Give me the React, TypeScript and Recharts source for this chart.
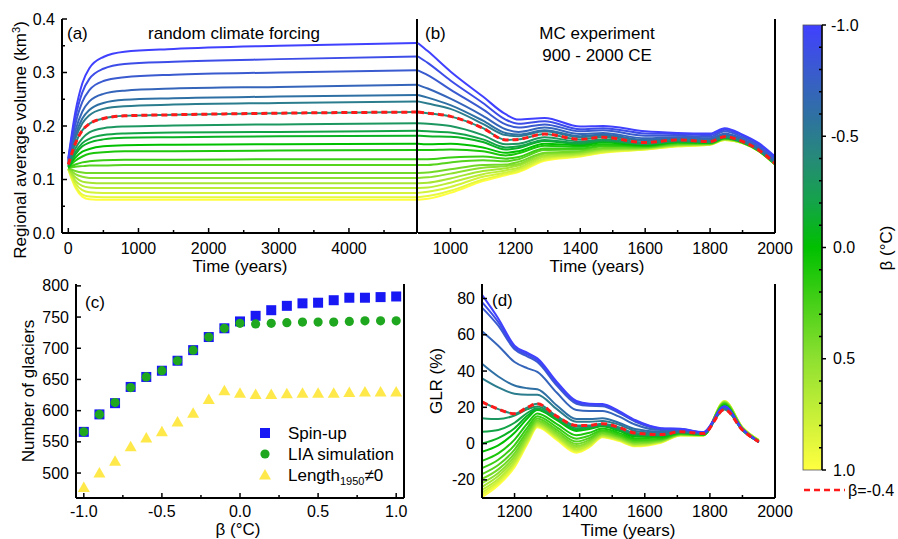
import React from "react";
import { LineChart, Line, XAxis, YAxis, ScatterChart, Scatter } from "recharts";

const FONT = "'Liberation Sans', Arial, Helvetica, sans-serif";

// β (°C) for every simulation, one line per value
const betas = [-1.0, -0.9, -0.8, -0.7, -0.6, -0.5, -0.4, -0.3, -0.2, -0.1, 0.0, 0.1, 0.2, 0.3, 0.4, 0.5, 0.6, 0.7, 0.8, 0.9, 1.0];
const highlightIndex = 6; // β = -0.4, drawn red dashed

// (a) spin-up with random climate forcing, regional average volume (km3)
const spinUpYears = [0, 100, 200, 300, 500, 800, 1500, 3000, 4970];
const spinUpVolume = [
  [0.140, 0.226, 0.280, 0.308, 0.329, 0.339, 0.344, 0.350, 0.355],
  [0.138, 0.215, 0.263, 0.288, 0.307, 0.316, 0.320, 0.325, 0.330],
  [0.136, 0.203, 0.245, 0.267, 0.284, 0.291, 0.296, 0.300, 0.304],
  [0.134, 0.191, 0.227, 0.246, 0.260, 0.266, 0.270, 0.273, 0.277],
  [0.132, 0.182, 0.214, 0.230, 0.243, 0.249, 0.252, 0.255, 0.258],
  [0.130, 0.176, 0.205, 0.220, 0.232, 0.237, 0.240, 0.243, 0.246],
  [0.128, 0.167, 0.192, 0.204, 0.214, 0.219, 0.221, 0.224, 0.226],
  [0.126, 0.158, 0.177, 0.188, 0.196, 0.199, 0.201, 0.203, 0.205],
  [0.125, 0.151, 0.168, 0.176, 0.183, 0.186, 0.188, 0.189, 0.191],
  [0.124, 0.147, 0.162, 0.169, 0.175, 0.178, 0.179, 0.181, 0.182],
  [0.123, 0.141, 0.152, 0.157, 0.162, 0.164, 0.165, 0.166, 0.167],
  [0.122, 0.135, 0.143, 0.148, 0.151, 0.153, 0.153, 0.154, 0.155],
  [0.122, 0.128, 0.132, 0.134, 0.136, 0.137, 0.137, 0.138, 0.138],
  [0.122, 0.124, 0.125, 0.126, 0.126, 0.127, 0.127, 0.127, 0.127],
  [0.121, 0.116, 0.113, 0.112, 0.112, 0.112, 0.112, 0.112, 0.112],
  [0.121, 0.110, 0.105, 0.103, 0.103, 0.103, 0.103, 0.103, 0.103],
  [0.120, 0.104, 0.096, 0.094, 0.093, 0.093, 0.093, 0.093, 0.093],
  [0.120, 0.098, 0.088, 0.085, 0.084, 0.084, 0.084, 0.084, 0.084],
  [0.120, 0.093, 0.080, 0.076, 0.075, 0.075, 0.075, 0.075, 0.075],
  [0.119, 0.088, 0.072, 0.068, 0.067, 0.067, 0.067, 0.067, 0.067],
  [0.119, 0.085, 0.068, 0.063, 0.062, 0.062, 0.062, 0.062, 0.062],
];

// (b) MC experiment 900 - 2000 CE
const mcYears = [900, 930, 1000, 1100, 1170, 1210, 1290, 1400, 1470, 1600, 1700, 1800, 1845, 1900, 1950, 2000];
const mcVolume = [
  [0.355, 0.340, 0.302, 0.255, 0.222, 0.212, 0.215, 0.199, 0.200, 0.190, 0.187, 0.186, 0.196, 0.184, 0.168, 0.143],
  [0.330, 0.318, 0.285, 0.243, 0.212, 0.204, 0.209, 0.194, 0.196, 0.186, 0.185, 0.183, 0.193, 0.182, 0.166, 0.141],
  [0.304, 0.295, 0.268, 0.231, 0.203, 0.197, 0.203, 0.190, 0.192, 0.182, 0.182, 0.180, 0.190, 0.179, 0.163, 0.138],
  [0.277, 0.270, 0.251, 0.219, 0.194, 0.189, 0.197, 0.185, 0.187, 0.177, 0.179, 0.177, 0.186, 0.176, 0.160, 0.135],
  [0.258, 0.253, 0.239, 0.210, 0.187, 0.184, 0.192, 0.181, 0.184, 0.174, 0.177, 0.175, 0.184, 0.174, 0.158, 0.133],
  [0.246, 0.242, 0.232, 0.204, 0.183, 0.181, 0.190, 0.179, 0.182, 0.172, 0.176, 0.173, 0.183, 0.173, 0.157, 0.132],
  [0.226, 0.224, 0.218, 0.196, 0.174, 0.175, 0.185, 0.175, 0.179, 0.169, 0.174, 0.171, 0.180, 0.171, 0.155, 0.130],
  [0.205, 0.204, 0.200, 0.183, 0.166, 0.167, 0.179, 0.171, 0.175, 0.167, 0.173, 0.170, 0.179, 0.171, 0.155, 0.130],
  [0.191, 0.190, 0.188, 0.175, 0.160, 0.162, 0.174, 0.168, 0.173, 0.166, 0.171, 0.170, 0.179, 0.170, 0.155, 0.130],
  [0.182, 0.181, 0.180, 0.170, 0.156, 0.159, 0.172, 0.166, 0.171, 0.166, 0.171, 0.169, 0.178, 0.170, 0.155, 0.130],
  [0.167, 0.166, 0.167, 0.160, 0.150, 0.153, 0.167, 0.164, 0.169, 0.164, 0.170, 0.169, 0.178, 0.170, 0.154, 0.129],
  [0.155, 0.155, 0.156, 0.153, 0.145, 0.149, 0.163, 0.161, 0.166, 0.163, 0.169, 0.168, 0.177, 0.170, 0.154, 0.129],
  [0.138, 0.138, 0.141, 0.143, 0.139, 0.142, 0.158, 0.158, 0.163, 0.162, 0.168, 0.168, 0.177, 0.169, 0.154, 0.129],
  [0.127, 0.127, 0.132, 0.136, 0.134, 0.138, 0.155, 0.156, 0.162, 0.161, 0.167, 0.167, 0.176, 0.169, 0.154, 0.129],
  [0.112, 0.113, 0.119, 0.127, 0.128, 0.133, 0.150, 0.153, 0.159, 0.160, 0.166, 0.167, 0.176, 0.169, 0.154, 0.129],
  [0.103, 0.104, 0.111, 0.122, 0.125, 0.129, 0.148, 0.151, 0.157, 0.159, 0.165, 0.167, 0.176, 0.169, 0.154, 0.129],
  [0.093, 0.094, 0.102, 0.116, 0.121, 0.126, 0.145, 0.149, 0.156, 0.159, 0.164, 0.166, 0.175, 0.169, 0.153, 0.128],
  [0.084, 0.085, 0.094, 0.110, 0.117, 0.122, 0.142, 0.147, 0.154, 0.158, 0.164, 0.166, 0.175, 0.168, 0.153, 0.128],
  [0.075, 0.077, 0.086, 0.105, 0.113, 0.119, 0.139, 0.146, 0.152, 0.157, 0.163, 0.166, 0.175, 0.168, 0.153, 0.128],
  [0.067, 0.069, 0.079, 0.100, 0.110, 0.116, 0.137, 0.144, 0.151, 0.156, 0.162, 0.165, 0.174, 0.168, 0.153, 0.128],
  [0.062, 0.064, 0.075, 0.097, 0.108, 0.114, 0.135, 0.143, 0.150, 0.156, 0.162, 0.165, 0.174, 0.168, 0.153, 0.128],
];

// (c) number of glaciers against β
const spinUpCount = [566, 594, 612, 638, 654, 664, 680, 697, 718, 732, 743, 752, 761, 768, 772, 773, 777, 781, 781, 782, 783];
const liaCount = [566, 594, 613, 637, 654, 664, 680, 697, 718, 732, 740, 739, 740, 741, 742, 742, 742, 743, 744, 744, 744];
const lengthCount = [477, 500, 519, 542, 556, 566, 582, 596, 618, 632, 628, 626, 626, 627, 628, 628, 628, 629, 630, 630, 630];

// (d) GLR (%)
const glrYears = [1100, 1150, 1200, 1240, 1270, 1330, 1390, 1430, 1470, 1520, 1570, 1650, 1710, 1780, 1845, 1900, 1950];
const glrValues = [
  [82, 69, 54, 50, 47, 34, 23.5, 22, 21.8, 18, 13, 8.5, 8.2, 6.3, 20.5, 8, 1],
  [78, 67, 53, 49, 46, 33, 22.8, 21.3, 21.2, 17.5, 12.6, 8.3, 8, 6.2, 20.5, 8, 1],
  [75, 65, 52, 48, 45, 32, 22, 20.8, 20.6, 17, 12.2, 8.1, 7.8, 6.1, 20.5, 8, 1],
  [62, 54, 45, 41.5, 39.5, 28, 18.5, 18, 18, 15, 10.5, 7.5, 7.5, 6, 20, 8, 1],
  [44, 37, 32, 30.5, 30, 21, 13.5, 13.5, 14, 11.5, 8, 6.5, 7, 5.8, 20, 7.8, 1],
  [36, 31, 27.5, 27, 27, 19, 12, 12, 12.5, 10.5, 7, 5.8, 6.8, 5.7, 19.5, 7.7, 1],
  [23, 19, 16.5, 20, 22, 15, 10, 10, 11, 9, 5.8, 5, 6.5, 5.5, 18.8, 7.5, 1],
  [14, 13.5, 15.5, 19, 20.5, 15, 9.5, 9.5, 10.5, 8.5, 5.5, 4.8, 6.3, 5.4, 19.5, 7.5, 1],
  [6.5, 7.5, 11.5, 17, 19.5, 14, 8.5, 9, 10.2, 8, 5, 4.5, 6.2, 5.3, 20, 7.5, 1],
  [0, 3, 8.5, 15.5, 19, 13.5, 7.7, 8.5, 9.8, 7.5, 4.5, 4.2, 6.1, 5.2, 20.5, 7.5, 1],
  [-4.5, -1, 6, 14, 18.5, 13, 7, 8, 9.5, 7, 4, 4, 6, 5.1, 21, 7.5, 1],
  [-9.5, -5.4, 2.2, 11.2, 16.6, 10.8, 4.6, 6, 8.3, 5.9, 2.9, 3.3, 5.7, 5, 21.5, 7.8, 1.2],
  [-13.5, -8.9, -0.8, 9, 15.1, 9, 2.7, 4.4, 7.3, 5, 2, 2.7, 5.5, 4.9, 21.9, 8.05, 1.4],
  [-16.8, -11.8, -3.3, 7.1, 13.9, 7.6, 1.1, 3.1, 6.6, 4.3, 1.3, 2.3, 5.3, 4.8, 22.2, 8.25, 1.5],
  [-19.5, -14.2, -5.4, 5.6, 12.8, 6.4, -0.2, 2, 5.9, 3.7, 0.7, 1.9, 5.1, 4.7, 22.5, 8.4, 1.6],
  [-21.8, -16.2, -7.1, 4.3, 11.9, 5.4, -1.3, 1.1, 5.4, 3.2, 0.2, 1.6, 5, 4.7, 22.7, 8.55, 1.7],
  [-23.8, -17.9, -8.6, 3.2, 11.2, 4.5, -2.2, 0.3, 4.9, 2.8, -0.2, 1.3, 4.85, 4.6, 22.9, 8.65, 1.8],
  [-25.5, -19.5, -10, 2.2, 10.5, 3.8, -3.1, -0.4, 4.5, 2.4, -0.6, 1.1, 4.7, 4.6, 23.1, 8.75, 1.85],
  [-27, -20.8, -11.1, 1.4, 9.9, 3.1, -3.8, -1, 4.1, 2.1, -1, 0.85, 4.65, 4.55, 23.25, 8.85, 1.9],
  [-28.3, -21.9, -12.1, 0.7, 9.5, 2.6, -4.4, -1.5, 3.8, 1.8, -1.2, 0.7, 4.6, 4.5, 23.4, 8.9, 1.95],
  [-29.5, -23, -13, 0, 9, 2, -5, -2, 3.5, 1.5, -1.5, 0.5, 4.5, 4.5, 23.5, 9, 2],
];

// axis ticks
const spinUpTicks = [0, 1000, 2000, 3000, 4000];
const spinUpMinor = [500, 1500, 2500, 3500, 4500];
const volumeTicks = [0, 0.1, 0.2, 0.3, 0.4];
const volumeMinor = [0.05, 0.15, 0.25, 0.35];
const mcTicks = [1000, 1200, 1400, 1600, 1800, 2000];
const mcMinor = [1100, 1300, 1500, 1700, 1900];
const betaTicks = [-1.0, -0.5, 0.0, 0.5, 1.0];
const betaMinor = [-0.75, -0.25, 0.25, 0.75];
const countTicks = [500, 550, 600, 650, 700, 750, 800];
const glrTicks = [-20, 0, 20, 40, 60, 80];
const glrYearTicks = [1200, 1400, 1600, 1800, 2000];
const glrYearMinor = [1300, 1500, 1700, 1900];

// colour map of the β colour bar
const colorStops: [number, string][] = [
  [-1.0, "#4040ff"],
  [-0.8, "#3a5ad0"],
  [-0.6, "#2f70a4"],
  [-0.4, "#268a78"],
  [-0.2, "#14a448"],
  [0.0, "#00c000"],
  [0.5, "#8ee030"],
  [1.0, "#ffff40"],
];

const HIGHLIGHT = "#ff1a1a";
const SPIN_COLOR = "#1818f4";
const LIA_COLOR = "#1fa81f";
const LENGTH_COLOR = "#ffe94a";

function hexRgb(h: string) {
  return [1, 3, 5].map((i) => parseInt(h.slice(i, i + 2), 16));
}

function betaColor(b: number) {
  for (let i = 0; i < colorStops.length - 1; i++) {
    const [b0, c0] = colorStops[i];
    const [b1, c1] = colorStops[i + 1];
    if (b <= b1 + 1e-9) {
      const f = Math.max(0, Math.min(1, (b - b0) / (b1 - b0)));
      const a = hexRgb(c0);
      const z = hexRgb(c1);
      const c = a.map((v, k) => Math.round(v + (z[k] - v) * f));
      return `rgb(${c[0]},${c[1]},${c[2]})`;
    }
  }
  return colorStops[colorStops.length - 1][1];
}

function toRows(times: number[], values: number[][]) {
  return times.map((t, j) => {
    const row: Record<string, number> = { t };
    values.forEach((v, i) => {
      row[`s${i}`] = v[j];
    });
    return row;
  });
}

const has = (list: number[], v: number) => list.some((m) => Math.abs(m - v) < 1e-9);
const frame = { stroke: "#000", strokeWidth: 2 };

function bottomTick(majors: number[], fmt: (v: number) => string, gap: number) {
  return (props: any) => {
    const { x, y, payload } = props;
    const major = has(majors, payload.value);
    return (
      <g>
        <line x1={x} x2={x} y1={y} y2={y - (major ? 5 : 3)} stroke="#000" strokeWidth={1.5} />
        {major && (
          <text x={x} y={y + gap} dy="0.35em" textAnchor="middle" fontSize={16} fontFamily={FONT} fill="#000">
            {fmt(payload.value)}
          </text>
        )}
      </g>
    );
  };
}

function leftTick(majors: number[], fmt: (v: number) => string) {
  return (props: any) => {
    const { x, y, payload } = props;
    const major = has(majors, payload.value);
    return (
      <g>
        <line x1={x} x2={x + (major ? 5 : 3)} y1={y} y2={y} stroke="#000" strokeWidth={1.5} />
        {major && (
          <text x={x - 7} y={y} dy="0.35em" textAnchor="end" fontSize={16} fontFamily={FONT} fill="#000">
            {fmt(payload.value)}
          </text>
        )}
      </g>
    );
  };
}

const fix1 = (v: number) => v.toFixed(1);
const plain = (v: number) => String(v);

function betaLines() {
  const order = betas.map((_, i) => betas.length - 1 - i);
  return [
    ...order.map((i) => (
      <Line
        key={`s${i}`}
        dataKey={`s${i}`}
        type="monotone"
        stroke={betaColor(betas[i])}
        strokeWidth={2}
        dot={false}
        activeDot={false}
        isAnimationActive={false}
      />
    )),
    <Line
      key="highlight"
      dataKey={`s${highlightIndex}`}
      type="monotone"
      stroke={HIGHLIGHT}
      strokeWidth={3}
      strokeDasharray="6 4"
      dot={false}
      activeDot={false}
      isAnimationActive={false}
    />,
  ];
}

const squareShape = (p: any) => <rect x={p.cx - 5} y={p.cy - 5} width={10} height={10} fill={SPIN_COLOR} />;
const circleShape = (p: any) => <circle cx={p.cx} cy={p.cy} r={4.6} fill={LIA_COLOR} />;
const triangleShape = (p: any) => (
  <polygon points={`${p.cx},${p.cy - 6} ${p.cx + 6},${p.cy + 4.5} ${p.cx - 6},${p.cy + 4.5}`} fill={LENGTH_COLOR} />
);

function Txt(props: { x: number; y: number; children: React.ReactNode; anchor?: string; rotate?: boolean; size?: number }) {
  const { x, y, children, anchor = "middle", rotate = false, size = 17 } = props;
  return (
    <text
      x={x}
      y={y}
      dy="0.35em"
      textAnchor={anchor as any}
      fontSize={size}
      fontFamily={FONT}
      fill="#000"
      transform={rotate ? `rotate(-90 ${x} ${y})` : undefined}
    >
      {children}
    </text>
  );
}

// right-hand frame edge drawn as a 1px wide axis
function rightFrame(domain: [number, number]) {
  return <YAxis yAxisId="right" orientation="right" type="number" domain={domain} width={1} tick={false} tickLine={false} axisLine={frame} />;
}

export default function App() {
  const rowsA = toRows(spinUpYears, spinUpVolume);
  const rowsB = toRows(mcYears, mcVolume);
  const rowsD = toRows(glrYears, glrValues);
  const spinPts = betas.map((b, i) => ({ x: b, y: spinUpCount[i] }));
  const liaPts = betas.map((b, i) => ({ x: b, y: liaCount[i] }));
  const lenPts = betas.map((b, i) => ({ x: b, y: lengthCount[i] }));

  // colour bar geometry
  const cbX = 803;
  const cbW = 19;
  const cbTop = 25;
  const cbBot = 470;
  const cbY = (b: number) => cbTop + ((b + 1) / 2) * (cbBot - cbTop);

  return (
    <div style={{ position: "absolute", left: 0, top: 0, width: 898, height: 539, background: "#fff", overflow: "hidden", fontFamily: FONT }}>
      <div style={{ position: "absolute", left: 0, top: 0 }}>
        <LineChart width={420} height={280} data={rowsA} margin={{ top: 19, right: 2, bottom: 0, left: 0 }}>
          <XAxis dataKey="t" type="number" domain={[-90, 4970]} ticks={[...spinUpTicks, ...spinUpMinor]} interval={0} height={47} tickSize={0} tickMargin={0} tickLine={false} axisLine={frame} tick={bottomTick(spinUpTicks, plain, 15)} />
          <XAxis xAxisId="top" dataKey="t" orientation="top" type="number" domain={[-90, 4970]} height={0} tick={false} tickLine={false} axisLine={frame} />
          <YAxis type="number" domain={[0, 0.4]} ticks={[...volumeTicks, ...volumeMinor]} interval={0} width={62} tickSize={0} tickMargin={0} tickLine={false} axisLine={frame} tick={leftTick(volumeTicks, fix1)} />
          {rightFrame([0, 0.4])}
          {betaLines()}
        </LineChart>
      </div>

      <div style={{ position: "absolute", left: 400, top: 0 }}>
        <LineChart width={400} height={280} data={rowsB} margin={{ top: 19, right: 24, bottom: 0, left: 18 }}>
          <XAxis dataKey="t" type="number" domain={[900, 2000]} ticks={[...mcTicks, ...mcMinor]} interval={0} height={47} tickSize={0} tickMargin={0} tickLine={false} axisLine={frame} tick={bottomTick(mcTicks, plain, 15)} />
          <XAxis xAxisId="top" dataKey="t" orientation="top" type="number" domain={[900, 2000]} height={0} tick={false} tickLine={false} axisLine={frame} />
          <YAxis type="number" domain={[0, 0.4]} hide />
          {rightFrame([0, 0.4])}
          {betaLines()}
        </LineChart>
      </div>

      <div style={{ position: "absolute", left: 0, top: 270 }}>
        <ScatterChart width={420} height={269} margin={{ top: 14, right: 15, bottom: 0, left: 0 }}>
          <XAxis dataKey="x" type="number" domain={[-1.05, 1.05]} ticks={[...betaTicks, ...betaMinor]} interval={0} height={41} tickSize={0} tickMargin={0} tickLine={false} axisLine={frame} tick={bottomTick(betaTicks, fix1, 13)} />
          <XAxis xAxisId="top" dataKey="x" orientation="top" type="number" domain={[-1.05, 1.05]} height={0} tick={false} tickLine={false} axisLine={frame} />
          <YAxis dataKey="y" type="number" domain={[460, 803]} ticks={countTicks} interval={0} width={76} tickSize={0} tickMargin={0} tickLine={false} axisLine={frame} tick={leftTick(countTicks, plain)} />
          {rightFrame([460, 803])}
          <Scatter name="Spin-up" data={spinPts} shape={squareShape} isAnimationActive={false} />
          <Scatter name="LIA simulation" data={liaPts} shape={circleShape} isAnimationActive={false} />
          <Scatter name="Length1950≠0" data={lenPts} shape={triangleShape} isAnimationActive={false} />
        </ScatterChart>
      </div>

      <div style={{ position: "absolute", left: 420, top: 270 }}>
        <LineChart width={380} height={269} data={rowsD} margin={{ top: 14, right: 24, bottom: 0, left: 0 }}>
          <XAxis dataKey="t" type="number" domain={[1100, 2000]} ticks={[...glrYearTicks, ...glrYearMinor]} interval={0} height={41} tickSize={0} tickMargin={0} tickLine={false} axisLine={frame} tick={bottomTick(glrYearTicks, plain, 13)} />
          <XAxis xAxisId="top" dataKey="t" orientation="top" type="number" domain={[1100, 2000]} height={0} tick={false} tickLine={false} axisLine={frame} />
          <YAxis type="number" domain={[-30, 88]} ticks={glrTicks} interval={0} width={62} tickSize={0} tickMargin={0} tickLine={false} axisLine={frame} tick={leftTick(glrTicks, plain)} />
          {rightFrame([-30, 88])}
          {betaLines()}
        </LineChart>
      </div>

      <svg width={898} height={539} style={{ position: "absolute", left: 0, top: 0, pointerEvents: "none" }}>
        <defs>
          <linearGradient id="betaGrad" x1="0" y1="0" x2="0" y2="1">
            {colorStops.map(([b, c]) => (
              <stop key={b} offset={(b + 1) / 2} stopColor={c} />
            ))}
          </linearGradient>
        </defs>

        {/* axis titles */}
        <Txt x={20} y={140} rotate>
          <tspan>Regional average volume (km</tspan>
          <tspan dy={-6} fontSize={11}>3</tspan>
          <tspan dy={6}>)</tspan>
        </Txt>
        <Txt x={240} y={266}>Time (years)</Txt>
        <Txt x={597} y={266}>Time (years)</Txt>
        <Txt x={28} y={391} rotate>Number of glaciers</Txt>
        <Txt x={238} y={529}>β (°C)</Txt>
        <Txt x={436} y={381} rotate>GLR (%)</Txt>
        <Txt x={628} y={530}>Time (years)</Txt>

        {/* panel labels and titles */}
        <Txt x={67} y={33} anchor="start">(a)</Txt>
        <Txt x={234} y={33}>random climate forcing</Txt>
        <Txt x={425} y={33} anchor="start">(b)</Txt>
        <Txt x={597} y={33}>MC experiment</Txt>
        <Txt x={597} y={55}>900 - 2000 CE</Txt>
        <Txt x={85} y={302} anchor="start">(c)</Txt>
        <Txt x={492} y={300} anchor="start">(d)</Txt>

        {/* legend of panel (c) */}
        <rect x={260} y={428} width={10} height={10} fill={SPIN_COLOR} />
        <Txt x={288} y={433} anchor="start">Spin-up</Txt>
        <circle cx={265} cy={454} r={4.6} fill={LIA_COLOR} />
        <Txt x={288} y={454} anchor="start">LIA simulation</Txt>
        <polygon points="265,469 271,479.5 259,479.5" fill={LENGTH_COLOR} />
        <Txt x={288} y={475} anchor="start">
          <tspan>Length</tspan>
          <tspan dy={4} fontSize={11}>1950</tspan>
          <tspan dy={-4}>≠0</tspan>
        </Txt>

        {/* colour bar */}
        <rect x={cbX} y={cbTop} width={cbW} height={cbBot - cbTop} fill="url(#betaGrad)" stroke="#555" strokeWidth={0.8} />
        <line x1={cbX + cbW} x2={cbX + cbW} y1={cbTop} y2={cbBot} stroke="#000" strokeWidth={1.5} />
        {betas.map((b) =>
          has(betaTicks, b) ? (
            <line key={b} x1={cbX + cbW} x2={cbX + cbW + 4} y1={cbY(b)} y2={cbY(b)} stroke="#000" strokeWidth={1.5} />
          ) : (
            <line key={b} x1={cbX + cbW - 3} x2={cbX + cbW} y1={cbY(b)} y2={cbY(b)} stroke="#000" strokeWidth={1.5} />
          )
        )}
        {betaTicks.map((b) => (
          <Txt key={b} x={b < 0 ? 831 : 833} y={cbY(b)} anchor="start" size={16}>
            {b.toFixed(1)}
          </Txt>
        ))}
        <Txt x={886} y={248} rotate>β (°C)</Txt>
        <line x1={804} x2={845} y1={490} y2={490} stroke={HIGHLIGHT} strokeWidth={2.5} strokeDasharray="6 4" />
        <Txt x={848} y={490} anchor="start" size={16}>β=-0.4</Txt>
      </svg>
    </div>
  );
}
